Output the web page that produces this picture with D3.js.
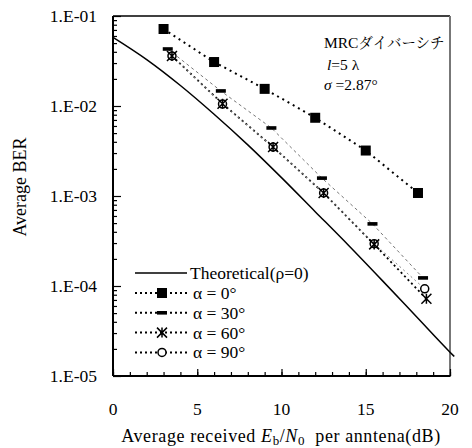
<!DOCTYPE html>
<html>
<head>
<meta charset="utf-8">
<script src="https://cdn.jsdelivr.net/npm/d3@7"></script>
</head>
<body style="margin:0; background:#fff">
<svg id="chart" width="472" height="448"></svg>
<script>
// theoretical curve
const theoX = [0, 2, 4, 6, 8, 10, 12, 14, 16, 18, 20, 20.25];
const theoY = [0.058, 0.0328, 0.0169, 0.0081, 0.0037, 0.0016, 0.00067, 0.00028, 0.000114, 0.0000458, 0.0000184, 0.0000165];

// measured series
const x0 = [3.0, 6.0, 9.0, 12.0, 15.0, 18.1];
const ber0 = [0.0717, 0.0308, 0.0155, 0.0074, 0.0032, 0.00108];
const x30 = [3.25, 6.4, 9.4, 12.4, 15.4, 18.4];
const ber30 = [0.043, 0.0147, 0.0057, 0.00158, 0.00049, 0.000123];
const x60 = [3.5, 6.5, 9.5, 12.5, 15.5, 18.6];
const ber60 = [0.036, 0.0106, 0.0035, 0.00108, 0.00029, 0.000072];
const x90 = [3.5, 6.5, 9.5, 12.5, 15.5, 18.5];
const ber90 = [0.036, 0.0105, 0.0035, 0.00108, 0.000295, 0.000093];

const seriesNames = ["α = 0°", "α = 30°", "α = 60°", "α = 90°"];
const xTicks = [0, 5, 10, 15, 20];
const yTicks = [1e-1, 1e-2, 1e-3, 1e-4, 1e-5];
const yTickLabels = ["1.E-01", "1.E-02", "1.E-03", "1.E-04", "1.E-05"];

const SERIF = "Liberation Serif";

const svg = d3.select("#chart");
const margin = {left: 113, top: 16, right: 22, bottom: 72};
const width = 472 - margin.left - margin.right;
const height = 448 - margin.top - margin.bottom;

const x = d3.scaleLinear().domain([0, 20]).range([0, width]);
const y = d3.scaleLog().domain([1e-5, 1e-1]).range([height, 0]);

const g = svg.append("g").attr("transform", `translate(${margin.left},${margin.top})`);

// frame: top and right
g.append("line").attr("x1", 0).attr("x2", width).attr("y1", 0).attr("y2", 0)
    .attr("stroke", "#000").attr("stroke-width", 1.5);
g.append("line").attr("x1", width).attr("x2", width).attr("y1", 0).attr("y2", height + 1)
    .attr("stroke", "#777").attr("stroke-width", 2);

// x axis with minor ticks pointing inward
const xMinor = d3.range(0, 21);
g.append("g").attr("transform", `translate(0,${height})`)
    .call(d3.axisTop(x).tickValues(xMinor).tickSize(4).tickFormat(""))
    .call(a => a.select(".domain").remove())
    .call(a => a.selectAll("line").attr("stroke-width", 1.2));
g.append("g").attr("transform", `translate(0,${height})`)
    .call(d3.axisTop(x).tickValues(xTicks).tickSize(7).tickFormat(""))
    .call(a => a.select(".domain").remove())
    .call(a => a.selectAll("line").attr("stroke-width", 1.2));
g.selectAll(".xlab").data(xTicks).join("text")
    .attr("class", "xlab")
    .attr("x", d => x(d)).attr("y", height + 39)
    .attr("text-anchor", "middle").attr("font-size", 17.5).attr("font-family", SERIF)
    .text(d => d);
g.append("line").attr("x1", 0).attr("x2", width).attr("y1", height).attr("y2", height)
    .attr("stroke", "#000").attr("stroke-width", 2);

// y axis log ticks pointing inward
const yMinor = [];
for (let e = -5; e < -1; e++) for (let m = 2; m <= 9; m++) yMinor.push(m * Math.pow(10, e));
g.append("g")
    .call(d3.axisRight(y).tickValues(yMinor).tickSize(4).tickFormat(""))
    .call(a => a.select(".domain").remove())
    .call(a => a.selectAll("line").attr("stroke-width", 1.2));
g.append("g")
    .call(d3.axisRight(y).tickValues(yTicks).tickSize(8).tickFormat(""))
    .call(a => a.select(".domain").remove())
    .call(a => a.selectAll("line").attr("stroke-width", 1.2));
g.selectAll(".ylab").data(yTicks).join("text")
    .attr("class", "ylab")
    .attr("x", -16).attr("y", d => y(d) + 6)
    .attr("text-anchor", "end").attr("font-size", 17.5).attr("font-family", SERIF)
    .text((d, i) => yTickLabels[i]);
g.append("line").attr("x1", 0).attr("x2", 0).attr("y1", 0).attr("y2", height)
    .attr("stroke", "#000").attr("stroke-width", 2);

// axis titles
svg.append("text")
    .attr("transform", `translate(26,187) rotate(-90)`)
    .attr("text-anchor", "middle").attr("font-size", 18).attr("font-family", SERIF)
    .text("Average BER");
const xt = svg.append("text")
    .attr("x", 281).attr("y", 442)
    .attr("text-anchor", "middle").attr("font-size", 18).attr("font-family", SERIF)
    .attr("letter-spacing", 0.6);
xt.append("tspan").text("Average received ");
xt.append("tspan").attr("font-style", "italic").text("E");
xt.append("tspan").attr("font-size", 13).attr("dy", 3).text("b");
xt.append("tspan").attr("dy", -3).text("/");
xt.append("tspan").attr("font-style", "italic").text("N");
xt.append("tspan").attr("font-size", 13).attr("dy", 3).text("0");
xt.append("tspan").attr("dy", -3).text("\u00a0 per anntena(dB)");

// theoretical curve
const theo = theoX.map((d, i) => [d, theoY[i]]);
const line = d3.line().curve(d3.curveMonotoneX).x(d => x(d[0])).y(d => y(d[1]));
const segLine = d3.line().x(d => x(d[0])).y(d => y(d[1]));
g.append("path").datum(theo).attr("d", line)
    .attr("fill", "none").attr("stroke", "#000").attr("stroke-width", 1.5);

// measured series
const series = [
    {xs: x0, ys: ber0, dash: "2,4", color: "#000", width: 2, marker: "square"},
    {xs: x30, ys: ber30, dash: "3,3", color: "#777", width: 1, marker: "dash"},
    {xs: x60, ys: ber60, dash: "2,3", color: "#000", width: 1.8, marker: "asterisk"},
    {xs: x90, ys: ber90, dash: "2,3", color: "#888", width: 1, marker: "circle"}
];

function drawMarker(sel, type, cx, cy) {
    if (type === "square") {
        sel.append("rect").attr("x", cx - 5).attr("y", cy - 5).attr("width", 10).attr("height", 10)
            .attr("fill", "#000");
    } else if (type === "dash") {
        sel.append("rect").attr("x", cx - 5).attr("y", cy - 1.8).attr("width", 10).attr("height", 3.6)
            .attr("fill", "#000");
    } else if (type === "asterisk") {
        const r = 5;
        sel.append("path")
            .attr("d", `M${cx - r},${cy - r}L${cx + r},${cy + r}M${cx - r},${cy + r}L${cx + r},${cy - r}M${cx},${cy - r}L${cx},${cy + r}`)
            .attr("stroke", "#000").attr("stroke-width", 1.5).attr("fill", "none");
    } else {
        sel.append("circle").attr("cx", cx).attr("cy", cy).attr("r", 4)
            .attr("fill", "#fff").attr("stroke", "#000").attr("stroke-width", 1.5);
    }
}

series.forEach(s => {
    const pts = s.xs.map((d, i) => [d, s.ys[i]]);
    g.append("path").datum(pts).attr("d", segLine)
        .attr("fill", "none").attr("stroke", s.color).attr("stroke-width", s.width)
        .attr("stroke-dasharray", s.dash);
});
series.slice().reverse().forEach(s => {
    const mg = g.append("g");
    s.xs.forEach((d, i) => drawMarker(mg, s.marker, x(d), y(s.ys[i])));
});

// legend
const legend = svg.append("g").attr("transform", "translate(135,273)");
legend.append("line").attr("x1", 0).attr("x2", 52).attr("y1", 0).attr("y2", 0)
    .attr("stroke", "#000").attr("stroke-width", 1.5);
legend.append("text").attr("x", 55).attr("y", 6).attr("font-size", 17.5).attr("font-family", SERIF)
    .text("Theoretical(ρ=0)");
series.forEach((s, i) => {
    const row = legend.append("g").attr("transform", `translate(0,${20 + i * 19.8})`);
    row.append("line").attr("x1", 0).attr("x2", 52).attr("y1", 0).attr("y2", 0)
        .attr("stroke", "#000").attr("stroke-width", 2).attr("stroke-dasharray", "2,3");
    drawMarker(row, s.marker, 27, 0);
    row.append("text").attr("x", 58).attr("y", 6).attr("font-size", 17.5).attr("font-family", SERIF)
        .text(seriesNames[i]);
});

// annotation
const n1 = svg.append("text").attr("x", 324).attr("y", 48).attr("font-size", 15.5).attr("font-family", SERIF);
n1.append("tspan").text("MRC");
n1.append("tspan").attr("font-family", "Noto Serif CJK JP").attr("font-size", 14.5).text("ダイバーシチ");
const n2 = svg.append("text").attr("x", 327).attr("y", 70).attr("font-size", 15.5).attr("font-family", SERIF);
n2.append("tspan").attr("font-style", "italic").text("l");
n2.append("tspan").text("=5 λ");
const n3 = svg.append("text").attr("x", 324).attr("y", 90).attr("font-size", 15.5).attr("font-family", SERIF);
n3.append("tspan").attr("font-style", "italic").text("σ");
n3.append("tspan").text(" =2.87°");
</script>
</body>
</html>
